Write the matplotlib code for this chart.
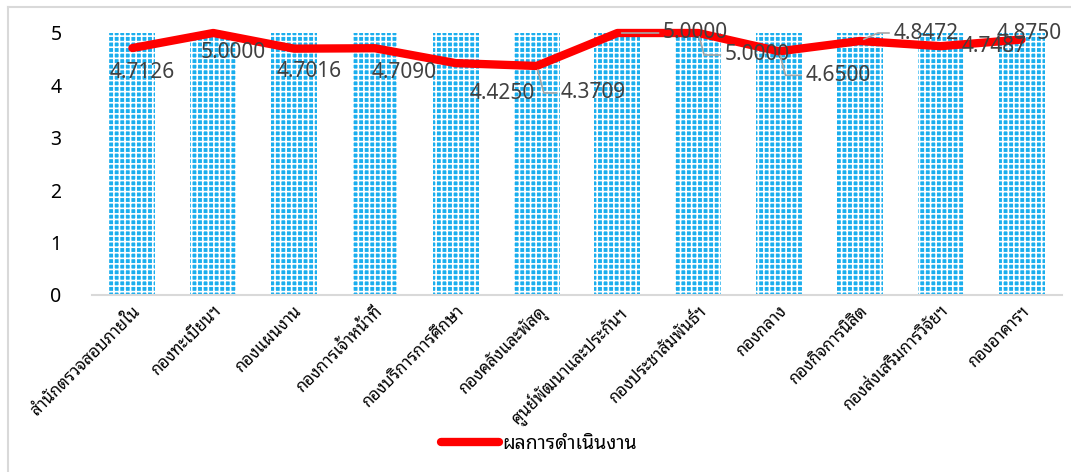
import matplotlib
matplotlib.use("Agg")
import matplotlib.pyplot as plt
import numpy as np

categories = ["สำนักตรวจสอบภายใน", "กองทะเบียนฯ", "กองแผนงาน", "กองการเจ้าหน้าที่",
              "กองบริการการศึกษา", "กองคลังและพัสดุ", "ศูนย์พัฒนาและประกันฯ",
              "กองประชาสัมพันธ์ฯ", "กองกลาง", "กองกิจการนิสิต",
              "กองส่งเสริมการวิจัยฯ", "กองอาคารฯ"]
bar_values = [5, 5, 5, 5, 5, 5, 5, 5, 5, 5, 5, 5]
line_values = [4.7126, 5.0000, 4.7016, 4.7090, 4.4250, 4.3709, 5.0000,
               5.0000, 4.6500, 4.8472, 4.7487, 4.8750]
series_name = "ผลการดำเนินงาน"
yticks = [0, 1, 2, 3, 4, 5]

# label offsets in pixels (dx, dy) and leader-line angle (None = no leader)
label_offsets = [(10, -24), (20, -19), (15, -23), (29, -24), (46, -30), (57, -27),
                 (78, 0), (59, -22), (59, -24), (66, 8), (53, 0), (8, 6)]
leader_angles = [None, None, None, None, None, 105, 'straight', 105, 105, 24, None, None]

thai = ['Noto Sans Thai Looped', 'DejaVu Sans']
num = ['Noto Sans', 'DejaVu Sans']
plt.rcParams['hatch.linewidth'] = 1.2

fig = plt.figure(figsize=(10.71, 4.72), dpi=100)
ax = fig.add_axes([92 / 1071, 1 - 295 / 472, (1062 - 92) / 1071, (295 - 33) / 472])

x = np.arange(len(categories))
ax.bar(x, bar_values, width=0.57, color='#1aaeee', edgecolor='white', hatch='+++',
       linewidth=0, zorder=1)
ax.plot(x, line_values, color='#ff0000', linewidth=6, solid_capstyle='round',
        solid_joinstyle='round', zorder=3, clip_on=False, label=series_name)

for i, v in enumerate(line_values):
    dx, dy = label_offsets[i]
    kw = {}
    ang = leader_angles[i]
    if ang is not None:
        cs = 'arc3,rad=0' if ang == 'straight' else f'angle,angleA=0,angleB={ang},rad=0'
        kw['arrowprops'] = dict(arrowstyle='-', color='#a6a6a6', lw=1.2,
                                shrinkA=1, shrinkB=3, relpos=(0, 0.5),
                                connectionstyle=cs)
    ax.annotate(f"{v:.4f}", (x[i], v), xytext=(dx, dy), textcoords='offset pixels',
                ha='center', va='center', fontsize=15, color='#404040',
                family=num, zorder=4, **kw)

ax.set_xlim(-0.5, len(categories) - 0.5)
ax.set_ylim(0, 5)
ax.set_yticks(yticks)
ax.set_yticklabels([str(t) for t in yticks], fontsize=14, family=num, color='black')
ax.tick_params(axis='y', length=0, pad=22)
ax.set_xticks(x)
ax.set_xticklabels(categories, rotation=45, ha='right', rotation_mode='anchor',
                   fontsize=12, family=thai)
ax.tick_params(axis='x', length=0, pad=6)
for s in ['top', 'right', 'left']:
    ax.spines[s].set_visible(False)
ax.spines['bottom'].set_color('#d9d9d9')
ax.spines['bottom'].set_linewidth(1.5)

leg = fig.legend(loc='center', bbox_to_anchor=(539 / 1071, 1 - 444 / 472), frameon=False,
                 prop={'family': thai, 'size': 14}, handlelength=3.0, handletextpad=0.15)

# outer chart border (left and top visible)
fig.add_artist(plt.Line2D([8 / 1071, 8 / 1071], [0, 1 - 7 / 472], color='#d9d9d9', lw=1.5,
                          transform=fig.transFigure))
fig.add_artist(plt.Line2D([8 / 1071, 1], [1 - 7 / 472, 1 - 7 / 472], color='#d9d9d9', lw=1.5,
                          transform=fig.transFigure))

fig.savefig("out.png", dpi=100)
